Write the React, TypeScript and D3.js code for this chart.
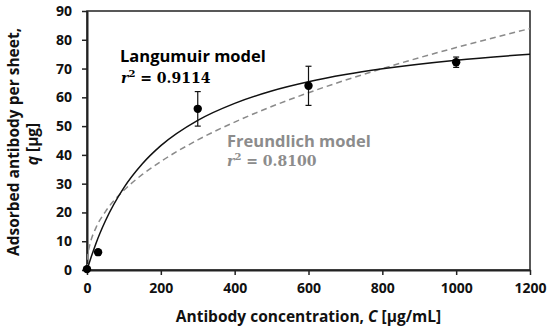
import * as d3 from "d3";
import { useEffect, useRef } from "react";

// measured points (C in µg/mL, q in µg)
const concentration = [0, 30, 300, 600, 1000];
const adsorbed = [0.3, 6.2, 56, 64, 72.2];
const errorBar = [0, 0, 6, 6.8, 1.8];

// model curves
const langmuirC = [0, 10, 25, 50, 100, 150, 200, 300, 400, 500, 600, 700, 800, 1000, 1200];
const langmuirQ = [0, 4.0, 9.5, 17.1, 28.6, 36.9, 43.2, 52.0, 57.9, 62.2, 65.4, 67.9, 69.9, 72.9, 75.0];
const freundlichC = [0, 2, 5, 10, 25, 50, 100, 150, 200, 300, 400, 500, 600, 800, 1000, 1200];
const freundlichQ = [0, 4.8, 7.3, 9.9, 14.9, 20.3, 27.7, 33.2, 37.7, 45.2, 51.4, 56.8, 61.6, 70.0, 77.3, 83.9];

const xTicks = [0, 200, 400, 600, 800, 1000, 1200];
const yTicks = [0, 10, 20, 30, 40, 50, 60, 70, 80, 90];

export default function App() {
  const svgRef = useRef<SVGSVGElement>(null);

  const width = 550;
  const height = 330;
  const margin = { top: 11, right: 20, bottom: 60, left: 87 };

  useEffect(() => {
    const svg = d3.select(svgRef.current);
    svg.selectAll("*").remove();

    const x = d3.scaleLinear().domain([0, 1200]).range([margin.left, width - margin.right]);
    const y = d3.scaleLinear().domain([0, 90]).range([height - margin.bottom, margin.top]);

    const font = "'Open Sans', sans-serif";
    const mathFont = "'DejaVu Serif', serif";

    svg.append("defs").append("clipPath").attr("id", "plot")
      .append("rect")
      .attr("x", x(0)).attr("y", y(90))
      .attr("width", x(1200) - x(0)).attr("height", y(0) - y(90));

    // frame
    svg.append("rect")
      .attr("x", x(0)).attr("y", y(90))
      .attr("width", x(1200) - x(0)).attr("height", y(0) - y(90))
      .attr("fill", "none").attr("stroke", "#222").attr("stroke-width", 1.5);

    const xAxis = svg.append("g")
      .attr("transform", `translate(0, ${y(0)})`)
      .call(d3.axisBottom(x).tickValues(xTicks).tickFormat(d3.format("d")).tickSize(5).tickSizeOuter(0).tickPadding(8));
    xAxis.select(".domain").attr("stroke", "#222").attr("stroke-width", 2);
    xAxis.selectAll("line").attr("stroke", "#222").attr("stroke-width", 1.5);
    xAxis.selectAll("text")
      .attr("font-family", font).attr("font-size", 14).attr("font-weight", 700).attr("fill", "#111");

    const yAxis = svg.append("g")
      .attr("transform", `translate(${x(0)}, 0)`)
      .call(d3.axisLeft(y).tickValues(yTicks).tickSize(5).tickSizeOuter(0).tickPadding(10));
    yAxis.select(".domain").attr("stroke", "#222").attr("stroke-width", 2);
    yAxis.selectAll("line").attr("stroke", "#222").attr("stroke-width", 1.5);
    yAxis.selectAll("text")
      .attr("font-family", font).attr("font-size", 14).attr("font-weight", 700).attr("fill", "#111");

    // axis titles
    const xt = svg.append("text")
      .attr("x", (x(0) + x(1200)) / 2).attr("y", 322)
      .attr("text-anchor", "middle")
      .attr("font-family", font).attr("font-size", 15.5).attr("font-weight", 700).attr("fill", "#111");
    xt.append("tspan").text("Antibody concentration, ");
    xt.append("tspan").attr("font-style", "italic").text("C");
    xt.append("tspan").text(" [µg/mL]");

    svg.append("text")
      .attr("transform", "translate(19, 142) rotate(-90)")
      .attr("text-anchor", "middle")
      .attr("font-family", font).attr("font-size", 15.5).attr("font-weight", 700).attr("fill", "#111")
      .text("Adsorbed antibody per sheet,");
    const yt2 = svg.append("text")
      .attr("transform", "translate(38, 144) rotate(-90)")
      .attr("text-anchor", "middle")
      .attr("font-family", font).attr("font-size", 15.5).attr("font-weight", 700).attr("fill", "#111");
    yt2.append("tspan").attr("font-style", "italic").text("q");
    yt2.append("tspan").text(" [µg]");

    const curve = d3.line<number>()
      .x((c) => x(c))
      .curve(d3.curveMonotoneX);

    const plot = svg.append("g").attr("clip-path", "url(#plot)");

    plot.append("path")
      .attr("d", curve.y((_, i) => y(freundlichQ[i]))(freundlichC))
      .attr("fill", "none")
      .attr("stroke", "#8a8a8a")
      .attr("stroke-width", 1.5)
      .attr("stroke-dasharray", "6,4");

    plot.append("path")
      .attr("d", curve.y((_, i) => y(langmuirQ[i]))(langmuirC))
      .attr("fill", "none")
      .attr("stroke", "#111")
      .attr("stroke-width", 1.5);

    // error bars
    concentration.forEach((c, i) => {
      if (!errorBar[i]) return;
      const g = svg.append("g").attr("stroke", "#111").attr("stroke-width", 1.2);
      g.append("line")
        .attr("x1", x(c)).attr("x2", x(c))
        .attr("y1", y(adsorbed[i] - errorBar[i])).attr("y2", y(adsorbed[i] + errorBar[i]));
      [adsorbed[i] - errorBar[i], adsorbed[i] + errorBar[i]].forEach((v) => {
        g.append("line")
          .attr("x1", x(c) - 3).attr("x2", x(c) + 3)
          .attr("y1", y(v)).attr("y2", y(v));
      });
    });

    svg.selectAll(".pt")
      .data(concentration)
      .enter()
      .append("circle")
      .attr("cx", (c) => x(c))
      .attr("cy", (_, i) => y(adsorbed[i]))
      .attr("r", 4.2)
      .attr("fill", "#000");

    // annotations
    svg.append("text")
      .attr("x", 120).attr("y", 62)
      .attr("font-family", font).attr("font-size", 16.5).attr("font-weight", 700).attr("fill", "#000")
      .text("Langumuir model");
    const r1 = svg.append("text")
      .attr("x", 121).attr("y", 83)
      .attr("font-family", mathFont).attr("font-size", 14).attr("font-weight", 700).attr("fill", "#000");
    r1.append("tspan").attr("font-style", "italic").text("r");
    r1.append("tspan").attr("font-size", 10).attr("dy", -6).text("2");
    r1.append("tspan").attr("dy", 6).text(" = 0.9114");

    svg.append("text")
      .attr("x", 227).attr("y", 147)
      .attr("font-family", font).attr("font-size", 16.5).attr("font-weight", 700).attr("fill", "#8c8c8c")
      .text("Freundlich model");
    const r2 = svg.append("text")
      .attr("x", 227).attr("y", 166)
      .attr("font-family", mathFont).attr("font-size", 14).attr("font-weight", 700).attr("fill", "#8c8c8c");
    r2.append("tspan").attr("font-style", "italic").text("r");
    r2.append("tspan").attr("font-size", 10).attr("dy", -6).text("2");
    r2.append("tspan").attr("dy", 6).text(" = 0.8100");
  }, []);

  return (
    <svg
      ref={svgRef}
      width={width}
      height={height}
      style={{ position: "absolute", left: 0, top: 0, background: "#fff" }}
    ></svg>
  );
}
